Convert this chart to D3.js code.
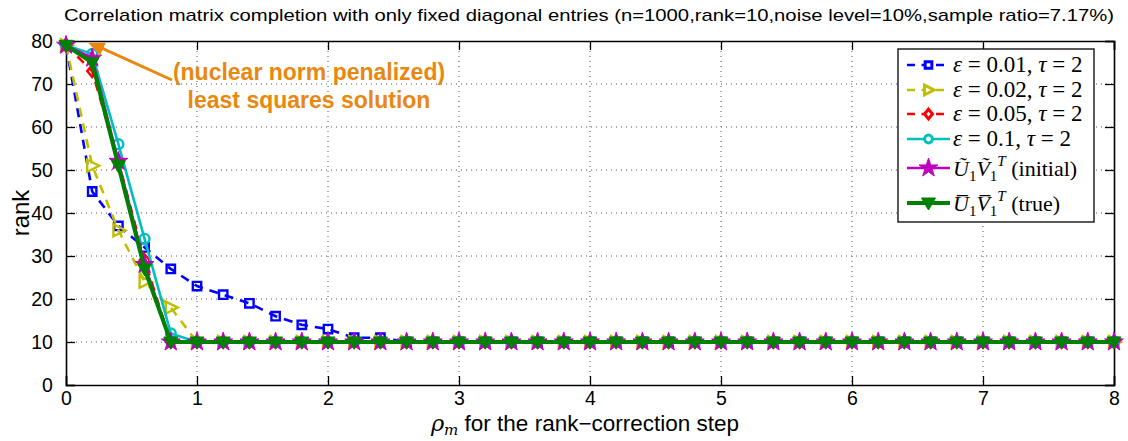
<!DOCTYPE html>
<html>
<head>
<meta charset="utf-8">
<script src="https://cdn.jsdelivr.net/npm/d3@7"></script>
<style>
  html, body { margin: 0; padding: 0; background: #fff; }
  svg { display: block; }
</style>
</head>
<body>
<svg id="chart" width="1128" height="441"></svg>
<script>
// rho_m values used for the rank-correction step
const rho = [0,0.2,0.4,0.6,0.8,1,1.2,1.4,1.6,1.8,2,2.2,2.4,2.6,2.8,3,3.2,3.4,3.6,3.8,4,
             4.2,4.4,4.6,4.8,5,5.2,5.4,5.6,5.8,6,6.2,6.4,6.6,6.8,7,7.2,7.4,7.6,7.8,8];

// rank of the solution for each setting
const rankEps001 = [79,45,37,32,27,23,21,19,16,14,13,11,11,10,10,10,10,10,10,10,10,
                    10,10,10,10,10,10,10,10,10,10,10,10,10,10,10,10,10,10,10,10];
const rankEps002 = [79,51,36,24,18,10,10,10,10,10,10,10,10,10,10,10,10,10,10,10,10,
                    10,10,10,10,10,10,10,10,10,10,10,10,10,10,10,10,10,10,10,10];
const rankEps005 = [79,73,52,29,10,10,10,10,10,10,10,10,10,10,10,10,10,10,10,10,10,
                    10,10,10,10,10,10,10,10,10,10,10,10,10,10,10,10,10,10,10,10];
const rankEps01  = [79,77,56,34,12,10,10,10,10,10,10,10,10,10,10,10,10,10,10,10,10,
                    10,10,10,10,10,10,10,10,10,10,10,10,10,10,10,10,10,10,10,10];
const rankInitial = [79,76,52,28,10,10,10,10,10,10,10,10,10,10,10,10,10,10,10,10,10,
                     10,10,10,10,10,10,10,10,10,10,10,10,10,10,10,10,10,10,10,10];
const rankTrue    = [79,75,51,27,10,10,10,10,10,10,10,10,10,10,10,10,10,10,10,10,10,
                     10,10,10,10,10,10,10,10,10,10,10,10,10,10,10,10,10,10,10,10];

const xTicks = [0,1,2,3,4,5,6,7,8];
const yTicks = [0,10,20,30,40,50,60,70,80];

const titleText = "Correlation matrix completion with only fixed diagonal entries (n=1000,rank=10,noise level=10%,sample ratio=7.17%)";

const series = [
  { values: rankEps001, color: "#0000ff", dash: "9,7", marker: "square" },
  { values: rankEps002, color: "#bfbf00", dash: "9,7", marker: "triRight" },
  { values: rankEps005, color: "#ff0000", dash: "9,7", marker: "diamond" },
  { values: rankEps01,  color: "#00bfbf", dash: null,  marker: "circle" },
  { values: rankInitial, color: "#bf00bf", dash: null, marker: "star" },
  { values: rankTrue,   color: "#008000", dash: null,  marker: "triDown" }
];

const svg = d3.select("#chart");
const L = 66, R = 1114, T = 41, B = 385;

const x = d3.scaleLinear().domain([0, 8]).range([L, R]);
const y = d3.scaleLinear().domain([0, 80]).range([B, T]);

// title
svg.append("text")
  .attr("x", (L + R) / 2 - 1).attr("y", 21)
  .attr("text-anchor", "middle")
  .attr("font-family", "Liberation Sans, Arial, sans-serif")
  .attr("font-size", 17)
  .attr("textLength", 1050).attr("lengthAdjust", "spacingAndGlyphs")
  .text(titleText);

// dotted grid
const grid = svg.append("g").attr("stroke", "#555").attr("stroke-width", 1).attr("stroke-dasharray", "1,4");
grid.selectAll(".gx").data(xTicks.slice(1, -1)).join("line")
  .attr("x1", d => x(d)).attr("x2", d => x(d)).attr("y1", T).attr("y2", B);
grid.selectAll(".gy").data(yTicks.slice(1, -1)).join("line")
  .attr("y1", d => y(d)).attr("y2", d => y(d)).attr("x1", L).attr("x2", R);

// axes with inward ticks on all four sides
const fontAxis = "Liberation Sans, Arial, sans-serif";
const axB = svg.append("g").attr("transform", `translate(0,${B})`)
  .call(d3.axisBottom(x).tickValues(xTicks).tickSize(-9).tickPadding(6).tickFormat(d3.format("d")));
const axT = svg.append("g").attr("transform", `translate(0,${T})`)
  .call(d3.axisTop(x).tickValues(xTicks).tickSize(-9).tickFormat(""));
const axL = svg.append("g").attr("transform", `translate(${L},0)`)
  .call(d3.axisLeft(y).tickValues(yTicks).tickSize(-9).tickPadding(15).tickFormat(d3.format("d")));
const axR = svg.append("g").attr("transform", `translate(${R},0)`)
  .call(d3.axisRight(y).tickValues(yTicks).tickSize(-9).tickFormat(""));
[axB, axT, axL, axR].forEach(g => {
  g.select(".domain").attr("stroke", "#000").attr("stroke-width", 1.6);
  g.selectAll(".tick line").attr("stroke", "#000").attr("stroke-width", 1.3);
  g.selectAll(".tick text").attr("font-family", fontAxis).attr("font-size", 19.5).attr("fill", "#000");
});
axB.selectAll(".tick text").attr("dy", "0.71em");
axL.selectAll(".tick text").attr("dx", "0.1em");

// axis labels
const xl = svg.append("text").attr("x", 585).attr("y", 431).attr("text-anchor", "middle")
  .attr("font-family", fontAxis).attr("font-size", 22.5);
xl.append("tspan").attr("font-family", "DejaVu Serif, serif").attr("font-style", "italic").text("ρ");
xl.append("tspan").attr("font-family", "DejaVu Serif, serif").attr("font-style", "italic")
  .attr("font-size", 15).attr("dy", 4).text("m");
xl.append("tspan").attr("dy", -4).text("  for the rank\u2212correction step");

svg.append("text")
  .attr("transform", `translate(29,${(T + B) / 2}) rotate(-90)`)
  .attr("text-anchor", "middle")
  .attr("font-family", fontAxis).attr("font-size", 24)
  .text("rank");

// markers
function markerPath(type, k = 1) {
  switch (type) {
    case "square": return d3.symbol(d3.symbolSquare, 70 * k * k)();
    case "diamond": return `M0,${-6 * k}L${5 * k},0L0,${6 * k}L${-5 * k},0Z`;
    case "triRight": return `M${-5 * k},${-6 * k}L${7 * k},0L${-5 * k},${6 * k}Z`;
    case "triDown": return `M${-7 * k},${-5 * k}L${7 * k},${-5 * k}L0,${7 * k}Z`;
    case "circle": return d3.symbol(d3.symbolCircle, 75 * k * k)();
    case "star": return d3.symbol(d3.symbolStar, 110 * k * k)();
  }
}

const line = d3.line().x((d, i) => x(rho[i])).y(d => y(d));
const plot = svg.append("g");
series.forEach(s => {
  const g = plot.append("g");
  g.append("path").datum(s.values)
    .attr("d", line)
    .attr("fill", "none")
    .attr("stroke", s.color)
    .attr("stroke-width", s.marker === "triDown" ? 4 : 2.6)
    .attr("stroke-dasharray", s.dash);
  const filled = s.marker === "star" || s.marker === "triDown";
  g.selectAll("path.m").data(s.values).join("path")
    .attr("class", "m")
    .attr("d", markerPath(s.marker))
    .attr("transform", (d, i) => `translate(${x(rho[i])},${y(d)})`)
    .attr("fill", filled ? s.color : "none")
    .attr("stroke", s.color)
    .attr("stroke-width", filled ? 1 : 2.4);
});

// annotation for the least squares starting point
const orange = "#ea870e";
const tipX = x(0.17), tipY = y(79.6);
const startX = 172, startY = 80;
svg.append("line")
  .attr("x1", startX).attr("y1", startY).attr("x2", tipX + 8).attr("y2", tipY + 3)
  .attr("stroke", orange).attr("stroke-width", 3);
{
  const ang = Math.atan2(tipY - startY, tipX - startX);
  const len = 16, w = 7;
  const bx = tipX - len * Math.cos(ang), by = tipY - len * Math.sin(ang);
  const px = -Math.sin(ang) * w, py = Math.cos(ang) * w;
  svg.append("path")
    .attr("d", `M${tipX},${tipY}L${bx + px},${by + py}L${bx - px},${by - py}Z`)
    .attr("fill", orange);
}
const ann = svg.append("text").attr("font-family", fontAxis).attr("font-weight", "bold")
  .attr("font-size", 23).attr("fill", orange).attr("text-anchor", "middle");
ann.append("tspan").attr("x", 309).attr("y", 80).text("(nuclear norm penalized)");
ann.append("tspan").attr("x", 309).attr("y", 108).text("least squares solution");

// legend
const lg = svg.append("g");
lg.append("rect").attr("x", 898).attr("y", 49).attr("width", 196).attr("height", 173)
  .attr("fill", "#fff").attr("stroke", "#000").attr("stroke-width", 1.3);
const rowsY = [65, 90, 114, 139, 168, 203];
const serif = "Liberation Serif, Times New Roman, serif";
series.forEach((s, i) => {
  const yy = rowsY[i];
  lg.append("line").attr("x1", 907).attr("x2", 950).attr("y1", yy).attr("y2", yy)
    .attr("stroke", s.color).attr("stroke-width", s.marker === "triDown" ? 4 : 2.6)
    .attr("stroke-dasharray", s.dash ? "8,6.5" : null);
  const filled = s.marker === "star" || s.marker === "triDown";
  lg.append("path").attr("d", markerPath(s.marker, filled ? 1 : 0.8))
    .attr("transform", `translate(928.5,${yy})`)
    .attr("fill", filled ? s.color : "#fff")
    .attr("stroke", s.color).attr("stroke-width", filled ? 1 : 3);
});

const legendEps = [["0.01", "2"], ["0.02", "2"], ["0.05", "2"], ["0.1", "2"]];
legendEps.forEach((e, i) => {
  const t = lg.append("text").attr("x", 953).attr("y", rowsY[i] + 7)
    .attr("font-family", serif).attr("font-size", 23);
  t.append("tspan").attr("font-style", "italic").text("ε");
  t.append("tspan").text("\u2005=\u2005" + e[0] + ",\u2005");
  t.append("tspan").attr("font-style", "italic").text("τ");
  t.append("tspan").text("\u2005=\u2005" + e[1]);
});

function matrixLabel(yy, u, v, note) {
  const t = lg.append("text").attr("x", 953).attr("y", yy + 8)
    .attr("font-family", serif).attr("font-size", 22);
  t.append("tspan").attr("font-style", "italic").text(u);
  t.append("tspan").attr("font-size", 15).attr("dy", 5).text("1");
  t.append("tspan").attr("font-style", "italic").attr("dy", -5).text(v);
  t.append("tspan").attr("font-size", 15).attr("dy", 5).text("1");
  t.append("tspan").attr("font-size", 15).attr("font-style", "italic").attr("dy", -15).text("T");
  t.append("tspan").attr("dy", 10).text("\u00a0" + note);
}
matrixLabel(rowsY[4], "\u0168", "\u1E7C", "(initial)");
matrixLabel(rowsY[5], "U\u0305", "V\u0305", "(true)");
</script>
</body>
</html>
